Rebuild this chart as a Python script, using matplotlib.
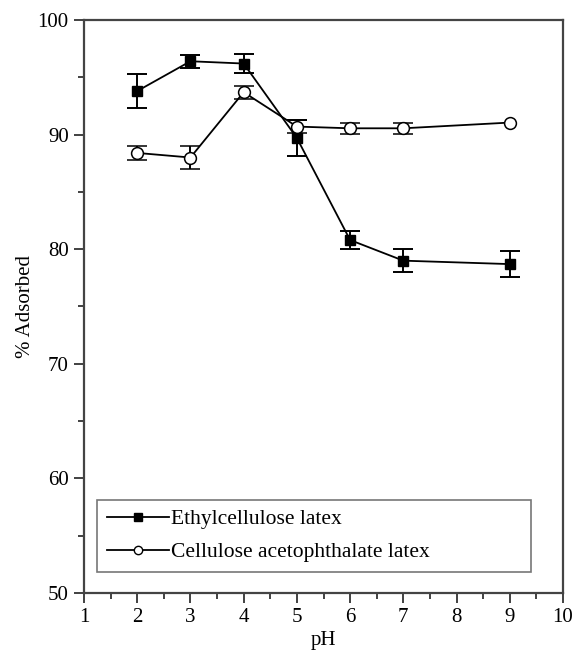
import matplotlib
matplotlib.use('Agg')
import matplotlib.pyplot as plt
from matplotlib.lines import Line2D
from matplotlib.ticker import MultipleLocator

plt.rcParams['font.family'] = ['Liberation Serif', 'DejaVu Serif']

# pH-Werte und Messwerte (% adsorbiert) mit Fehlerbalken
ph = [2, 3, 4, 5, 6, 7, 9]
ethyl = [93.8, 96.4, 96.2, 89.7, 80.8, 79.0, 78.7]
ethyl_err = [1.5, 0.55, 0.8, 1.6, 0.8, 1.0, 1.15]
cap = [88.4, 88.0, 93.7, 90.7, 90.55, 90.55, 91.05]
cap_err = [0.6, 1.0, 0.55, 0.57, 0.5, 0.5, float('nan')]  # bei pH 9 kein Fehlerbalken

labels = ['Ethylcellulose latex', 'Cellulose acetophthalate latex']

fig = plt.figure(figsize=(5.74, 6.53), dpi=100)
ax = fig.add_axes([84 / 574, 60 / 653, 479 / 574, 573 / 653])

ax.errorbar(ph, ethyl, yerr=ethyl_err, color='black', lw=1.3, elinewidth=1.4,
            capsize=7, capthick=1.4, marker='s', ms=7, mfc='black', mec='black', zorder=3)
ax.errorbar(ph, cap, yerr=cap_err, color='black', lw=1.3, elinewidth=1.4,
            capsize=7, capthick=1.4, marker='o', ms=8.5, mfc='white', mec='black', mew=1.1, zorder=4)

ax.set_xlim(1, 10)
ax.set_ylim(50, 100)
ax.xaxis.set_major_locator(MultipleLocator(1))
ax.xaxis.set_minor_locator(MultipleLocator(0.5))
ax.yaxis.set_major_locator(MultipleLocator(10))
ax.yaxis.set_minor_locator(MultipleLocator(5))
ax.tick_params(which='major', direction='out', length=7, width=1.3, color='#333333',
               labelsize=15, pad=4)
ax.tick_params(which='minor', direction='out', length=4, width=1.3, color='#333333')
ax.tick_params(top=False, right=False)

for s in ax.spines.values():
    s.set_linewidth(1.6)
    s.set_color('#444444')

ax.set_xlabel('pH', fontsize=15, labelpad=3)
ax.set_ylabel('% Adsorbed', fontsize=15, labelpad=2)

# Legende
handles = [
    Line2D([], [], color='black', lw=1.3, marker='s', ms=5.5, mfc='black'),
    Line2D([], [], color='black', lw=1.3, marker='o', ms=6, mfc='white', mew=1.0),
]
leg = ax.legend(handles, labels, loc='lower left', mode='expand',
                bbox_to_anchor=(13 / 479, 21 / 573, 434 / 479, 72 / 573),
                borderaxespad=0, fancybox=False, fontsize=15.5, handlelength=2.9,
                handletextpad=0.1, numpoints=1, labelspacing=0.6, borderpad=0.45)
leg.get_frame().set_edgecolor('#555555')
leg.get_frame().set_linewidth(1.2)

fig.savefig('out.png', dpi=100)
